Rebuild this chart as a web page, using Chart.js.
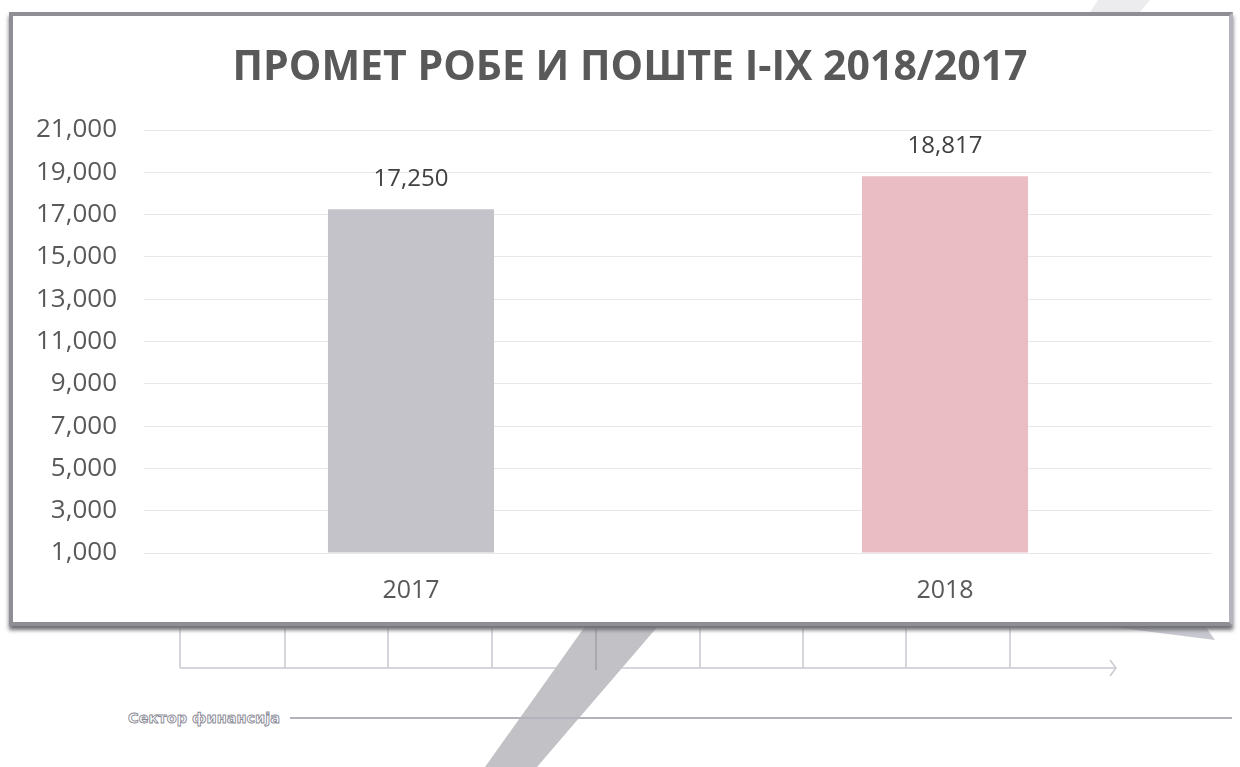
<!DOCTYPE html>
<html>
<head>
<meta charset="utf-8">
<script src="https://cdn.jsdelivr.net/npm/chart.js@4.4.1/dist/chart.umd.min.js"></script>
<style>
  html, body { margin: 0; padding: 0; background: #ffffff; }
  body { width: 1240px; height: 767px; position: relative; overflow: hidden; }
  #decor { position: absolute; left: 0; top: 0; z-index: 0; }
  #frame { position: absolute; left: 9px; top: 12px; width: 1216px; height: 606px;
           border: 4px solid #8e8e94; border-right-color: #b4b4bc; background: #fff;
           box-shadow: 0 4px 4px #6e6e74; z-index: 1; }
  #wrap { position: absolute; left: 0; top: 0; width: 1240px; height: 630px; z-index: 2; }
  #footer { position: absolute; left: 128px; top: 709px; z-index: 3;
            font-family: "DejaVu Sans", sans-serif; font-weight: bold; font-size: 14.5px;
            line-height: 18px; color: #ffffff; -webkit-text-stroke: 0.9px #8c8c98; }
</style>
</head>
<body>
<svg id="decor" width="1240" height="767" viewBox="0 0 1240 767">
  <polygon points="1098,0 1150,0 1140,12 1090,12" fill="#ececef"/>
  <g stroke="#c9c9d2" stroke-width="1.5" fill="none">
    <line x1="180" y1="628" x2="180" y2="668"/>
    <line x1="285" y1="628" x2="285" y2="668"/>
    <line x1="388" y1="628" x2="388" y2="668"/>
    <line x1="492" y1="628" x2="492" y2="668"/>
    <line x1="700" y1="628" x2="700" y2="668"/>
    <line x1="803" y1="628" x2="803" y2="668"/>
    <line x1="906" y1="628" x2="906" y2="668"/>
    <line x1="1010" y1="628" x2="1010" y2="668"/>
    <line x1="180" y1="668" x2="1115" y2="668"/>
    <polyline points="1110,660 1116,668 1110,676"/>
  </g>
  <polygon points="586,625 659,625 537,767 485,767" fill="#c2c2c6"/>
  <line x1="596" y1="628" x2="596" y2="670" stroke="#a8a8ae" stroke-width="2"/>
  <polygon points="1105,626 1205,626 1215,640" fill="#c8c8d0"/>
  <line x1="290" y1="718" x2="1232" y2="718" stroke="#b3b3bd" stroke-width="2"/>
</svg>
<div id="frame"></div>
<div id="wrap"><canvas id="c" width="1240" height="630"></canvas></div>
<div id="footer">Сектор финансија</div>
<script>
const categories = ["2017", "2018"];
const values = [17250, 18817];
const barColors = ["#c5c3ca", "#eabdc5"];
const yTickValues = [1000, 3000, 5000, 7000, 9000, 11000, 13000, 15000, 17000, 19000, 21000];
const titleText = "ПРОМЕТ РОБЕ И ПОШТЕ I-IX 2018/2017";

const fmt = v => v.toLocaleString("en-US");

const titleAndLabels = {
  id: "titleAndLabels",
  afterDatasetsDraw(chart) {
    const ctx = chart.ctx;
    ctx.save();
    ctx.font = "bold 41px 'Open Sans', sans-serif";
    ctx.fillStyle = "#595959";
    ctx.textAlign = "center";
    ctx.textBaseline = "middle";
    ctx.fillText(titleText, 630, 68);

    const meta = chart.getDatasetMeta(0);
    ctx.font = "24px 'Open Sans', sans-serif";
    ctx.fillStyle = "#404040";
    meta.data.forEach((bar, i) => {
      ctx.fillText(fmt(chart.data.datasets[0].data[i]), bar.x, bar.y - 30);
    });
    ctx.restore();
  }
};

new Chart(document.getElementById("c"), {
  type: "bar",
  data: {
    labels: categories,
    datasets: [{
      data: values,
      backgroundColor: barColors,
      borderWidth: 0,
      categoryPercentage: 1.0,
      barPercentage: 0.311,
      base: 1000
    }]
  },
  options: {
    responsive: false,
    animation: false,
    devicePixelRatio: 1,
    layout: { padding: { left: 0, right: 28, top: 130, bottom: 9 } },
    plugins: {
      legend: { display: false },
      tooltip: { enabled: false },
      title: { display: false }
    },
    scales: {
      x: {
        grid: { display: false },
        border: { display: false },
        ticks: { color: "#595959", font: { family: "'Open Sans', sans-serif", size: 25 }, padding: 15 }
      },
      y: {
        min: 1000,
        max: 21000,
        afterBuildTicks: s => { s.ticks = yTickValues.map(v => ({ value: v })); },
        afterFit: s => { s.width = 144; },
        grid: { color: "#e8e8ea", drawTicks: false, lineWidth: 1 },
        border: { display: false },
        ticks: {
          color: "#595959",
          font: { family: "'Open Sans', sans-serif", size: 26 },
          padding: 27,
          callback: v => fmt(v)
        }
      }
    }
  },
  plugins: [titleAndLabels]
});
</script>
</body>
</html>
